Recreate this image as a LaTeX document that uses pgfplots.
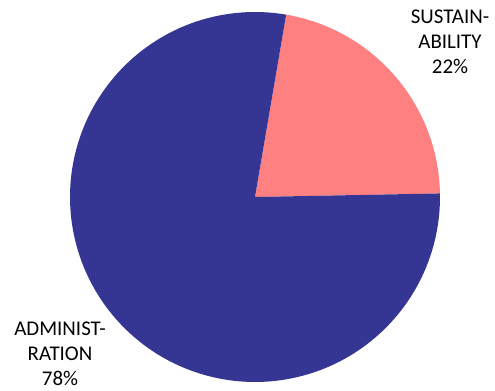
\documentclass[border=0pt]{standalone}
\usepackage{pgfplots}
\pgfplotsset{compat=1.18}
\usepackage{fontspec}
\setmainfont{Carlito}
\definecolor{pieblue}{RGB}{53,53,148}
\definecolor{piepink}{RGB}{255,128,128}
% shares (percent)
\def\shareSust{22}
\def\shareAdmin{78}
\def\startangle{80.3}
\begin{document}
\begin{tikzpicture}
\begin{axis}[
  scale only axis, width=495bp, height=391bp,
  xmin=0, xmax=495, ymin=0, ymax=391,
  hide axis, clip=false,
]
\path (rel axis cs:0,0) rectangle (rel axis cs:1,1);
\pgfmathsetmacro{\aA}{\startangle-3.6*\shareSust}
\pgfmathsetmacro{\aB}{\startangle+3.6*\shareAdmin}
\addplot[fill=piepink, draw=none, domain=\aA:\startangle, samples=120, variable=\t]
  ({255+185*cos(\t)}, {194+185*sin(\t)}) -- (axis cs:255,194) -- cycle;
\addplot[fill=pieblue, draw=none, domain=\startangle:\aB, samples=200, variable=\t]
  ({255+185*cos(\t)}, {194+185*sin(\t)}) -- (axis cs:255,194) -- cycle;
\node[align=center, font=\fontsize{21}{25}\selectfont, inner sep=0pt] at (axis cs:450,349) {SUSTAIN-\\ABILITY\\22\%};
\node[align=center, font=\fontsize{21}{25}\selectfont, inner sep=0pt] at (axis cs:60,37) {ADMINIST-\\RATION\\78\%};
\end{axis}
\end{tikzpicture}
\end{document}
